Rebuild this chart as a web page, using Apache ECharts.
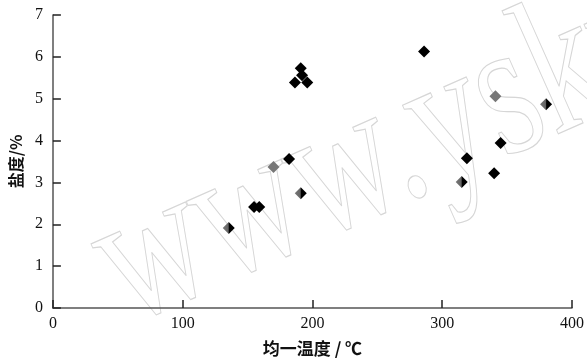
<!DOCTYPE html>
<html><head><meta charset="utf-8">
<script src="https://cdn.jsdelivr.net/npm/echarts@6/dist/echarts.min.js"></script>
<style>html,body{margin:0;padding:0;background:#fff}#c{width:587px;height:363px}</style>
</head><body><div id="c"></div>
<script>
// black diamonds
const blackPts = [
  [155, 2.41], [159, 2.41], [182, 3.56],
  [191, 5.73], [192, 5.56], [186.5, 5.39], [196, 5.39],
  [286, 6.13], [319, 3.58], [340, 3.22], [345, 3.94]
];
// grey diamonds
const greyPts = [
  [170, 3.37], [341, 5.06]
];
// diamonds shaded grey-to-black
const mixedPts = [
  [135.5, 1.91], [191, 2.74], [315, 3.01], [380, 4.87]
];
const xTicks = [0, 100, 200, 300, 400];
const yTicks = [0, 1, 2, 3, 4, 5, 6, 7];
const xName = '均一温度 / ℃';
const yName = '盐度/%';
const watermark = 'www.yskw';

const chart = echarts.init(document.getElementById('c'));
const axisCommon = {
  axisLine: {show: true, lineStyle: {color: '#555', width: 1.5}},
  axisTick: {show: true, inside: true, length: 8, lineStyle: {color: '#222', width: 1.5}},
  splitLine: {show: false}
};
const th = 24 * Math.PI / 180;
chart.setOption({
  animation: false,
  grid: {left: 52, right: 12, top: 15, bottom: 55},
  graphic: [{
    type: 'text', x: 146, y: 368, rotation: th, scaleX: 0.74, silent: true, z: 0,
    style: {text: watermark, fontFamily: 'Liberation Serif', fontSize: 195, fill: 'none', stroke: '#d6d6d6', lineWidth: 1.2, verticalAlign: 'bottom'}
  }],
  xAxis: Object.assign({
    type: 'value', min: xTicks[0], max: xTicks[xTicks.length-1], interval: 100,
    name: xName, nameLocation: 'middle', nameGap: 32,
    nameTextStyle: {fontFamily: 'Noto Sans CJK SC', fontSize: 17, fontWeight: 'bold', color: '#111'},
    axisLabel: {fontFamily: 'Liberation Serif', fontSize: 16, color: '#111', margin: 8}
  }, axisCommon),
  yAxis: Object.assign({
    type: 'value', min: yTicks[0], max: yTicks[yTicks.length-1], interval: 1,
    name: yName, nameLocation: 'middle', nameGap: 27, nameRotate: 90,
    nameTextStyle: {fontFamily: 'Noto Sans CJK SC', fontSize: 16, fontWeight: 'bold', color: '#111'},
    axisLabel: {fontFamily: 'Liberation Serif', fontSize: 16, color: '#111', margin: 10}
  }, axisCommon),
  series: [
    {type: 'scatter', data: blackPts, symbol: 'diamond', symbolSize: 12, itemStyle: {color: '#000', opacity: 1}, z: 3},
    {type: 'scatter', data: greyPts, symbol: 'diamond', symbolSize: 12, itemStyle: {color: '#777', opacity: 1}, z: 3},
    {type: 'scatter', data: mixedPts, symbol: 'diamond', symbolSize: 12, z: 3,
      itemStyle: {opacity: 1, color: new echarts.graphic.LinearGradient(0, 0, 1, 0, [{offset: 0, color: '#777'}, {offset: 0.45, color: '#666'}, {offset: 0.55, color: '#000'}, {offset: 1, color: '#000'}])}}
  ]
});
</script></body></html>
